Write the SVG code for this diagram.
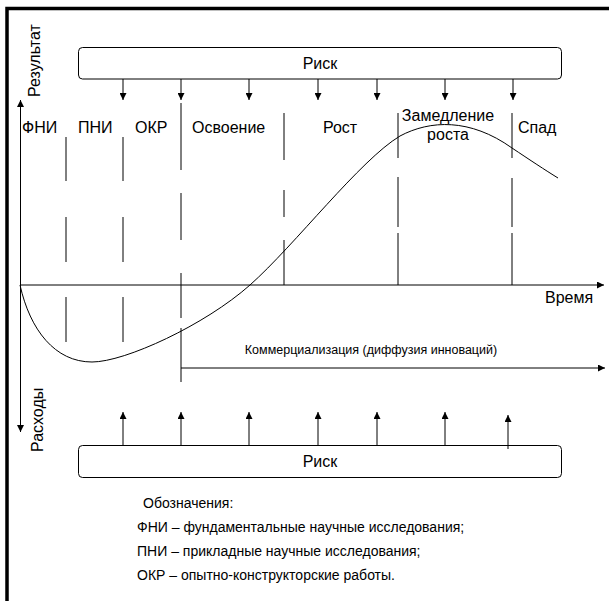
<svg xmlns="http://www.w3.org/2000/svg" width="609" height="601" viewBox="0 0 609 601">
<defs>
<marker id="ah" viewBox="0 0 10 10" refX="10" refY="5" markerWidth="8" markerHeight="7" markerUnits="userSpaceOnUse" orient="auto">
<path d="M0,0 L10,5 L0,10 Z" fill="#000"/>
</marker>
<style>
text{font-family:"Liberation Sans",Arial,sans-serif;fill:#000}
.lbl{font-size:16px}
.leg{font-size:14px}
.box{fill:#fff;stroke:#000;stroke-width:1}
.ln{stroke:#000;stroke-width:1;fill:none}
.ar{stroke:#000;stroke-width:1;fill:none;marker-end:url(#ah)}
</style>
</defs>
<rect width="609" height="601" fill="#fff"/>
<rect x="7" y="8.5" width="620" height="620" fill="none" stroke="#000" stroke-width="3.5"/>

<g id="risk-top">
<rect class="box" x="78.5" y="47.5" width="483" height="31.5" rx="4"/>
<text class="lbl" x="320" y="69" text-anchor="middle">Риск</text>
</g>
<g id="risk-bottom">
<rect class="box" x="78.5" y="445.5" width="483" height="32" rx="4"/>
<text class="lbl" x="320" y="467" text-anchor="middle">Риск</text>
</g>

<g id="axis-labels">
<text class="lbl" transform="translate(40,97) rotate(-90)">Результат</text>
<text class="lbl" transform="translate(43,452) rotate(-90)">Расходы</text>
<text class="lbl" x="545" y="303">Время</text>
</g>

<g id="phase-labels">
<text class="lbl" x="22" y="133">ФНИ</text>
<text class="lbl" x="78" y="133">ПНИ</text>
<text class="lbl" x="135" y="133">ОКР</text>
<text class="lbl" x="192" y="133">Освоение</text>
<text class="lbl" x="323" y="133">Рост</text>
<text class="lbl" x="448" y="121" text-anchor="middle">Замедление</text>
<text class="lbl" x="448" y="140" text-anchor="middle">роста</text>
<text class="lbl" x="518" y="133">Спад</text>
<text class="leg" x="371" y="354" text-anchor="middle" style="font-size:12.5px">Коммерциализация (диффузия инноваций)</text>
</g>

<g id="connectors">
<path class="ar" d="M20.5,432 V100"/>
<path class="ar" d="M20.5,285 V432"/>
<path class="ar" d="M20,285 H604"/>
<path class="ar" d="M181,368 H605"/>
<path class="ar" d="M123,79 V100"/>
<path class="ar" d="M181,79 V100"/>
<path class="ar" d="M249,79 V100"/>
<path class="ar" d="M318,79 V100"/>
<path class="ar" d="M377,79 V100"/>
<path class="ar" d="M445,79 V100"/>
<path class="ar" d="M513,79 V100"/>
<path class="ar" d="M123,445 V412"/>
<path class="ar" d="M181,445 V412"/>
<path class="ar" d="M249,445 V412"/>
<path class="ar" d="M318,445 V412"/>
<path class="ar" d="M377,445 V412"/>
<path class="ar" d="M445,445 V412"/>
<path class="ar" d="M508,449 V415"/>
</g>

<g id="phase-lines">
<path class="ln" d="M66,137V181M66,217V262M66,297V342"/>
<path class="ln" d="M123,137V181M123,217V262M123,297V342"/>
<path class="ln" d="M181,103V170M181,193V240M181,273V318M181,328V382"/>
<path class="ln" d="M284,113V160M284,190V217M284,240V285"/>
<path class="ln" d="M398,113V158M398,177V227M398,233V285"/>
<path class="ln" d="M512,113V158M512,178V227M512,233V285"/>
</g>

<g id="curve">
<path class="ln" d="M20,285 C30,330 55,362 92,362 C125,362 205,325 250,285 C295,245 360,160 400,136 C430,120 470,118 512,148 C530,160 545,170 558,178"/>
</g>

<g id="legend">
<text class="leg" x="143" y="508">Обозначения:</text>
<text class="leg" x="137" y="532">ФНИ – фундаментальные научные исследования;</text>
<text class="leg" x="137" y="556">ПНИ – прикладные научные исследования;</text>
<text class="leg" x="137" y="580">ОКР – опытно-конструкторские работы.</text>
</g>
</svg>
